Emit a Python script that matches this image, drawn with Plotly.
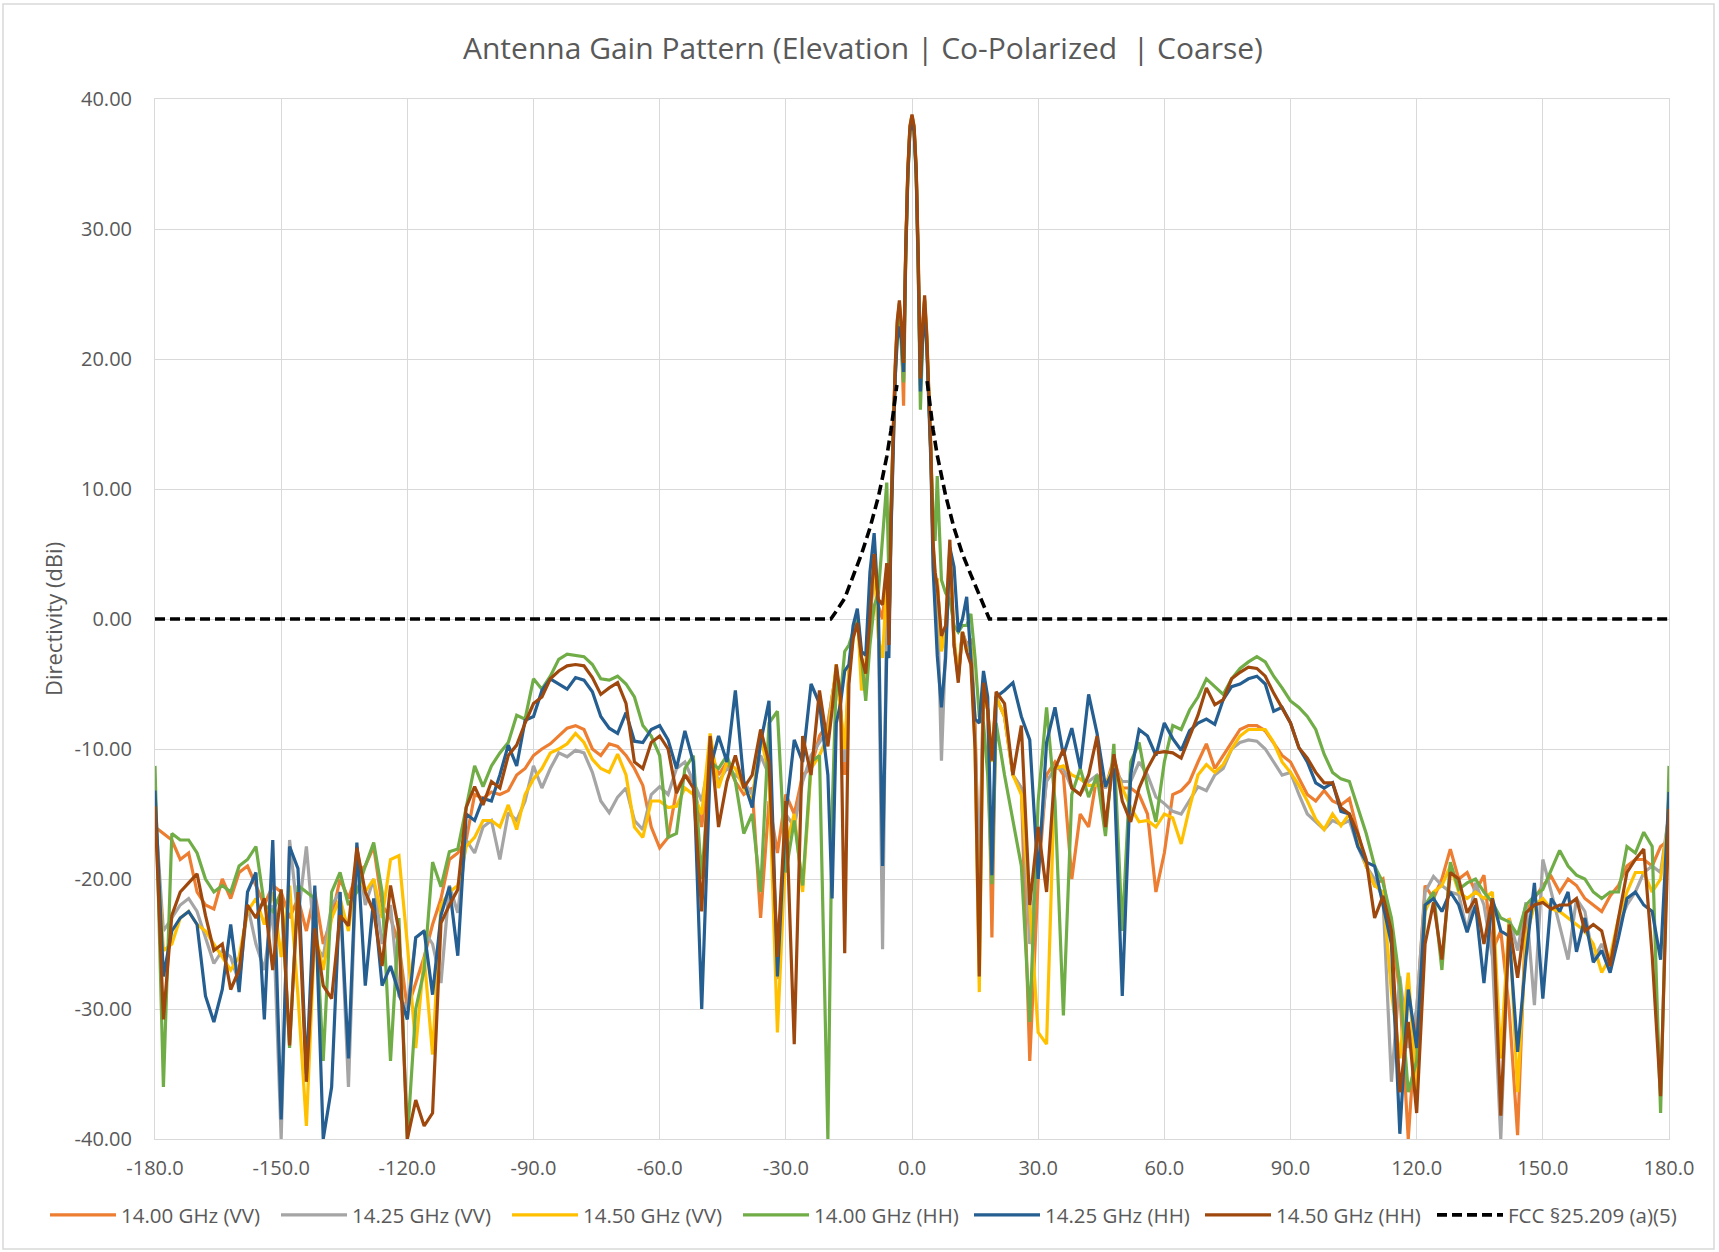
import plotly.graph_objects as go

# ---------------- angle grid (degrees) ----------------
angle_coarse_left = list(range(-180, -21, 2))        # -180 .. -22
angle_fine_left = list(range(-20, -5))               # -20 .. -6
angle_main = [v / 2 for v in range(-11, 12)]         # -5.5 .. 5.5
angle_fine_right = list(range(6, 21))                # 6 .. 20
angle_coarse_right = list(range(22, 181, 2))         # 22 .. 180
angles = angle_coarse_left + angle_fine_left + angle_main + angle_fine_right + angle_coarse_right

# ---------------- series (dBi) ----------------
vv_1400 = [  # 14.00 GHz (VV)
    -16.0, -16.5, -17.0, -18.5, -18.0, -21.0, -22.0, -22.3, -20.0, -21.5,
    -19.5, -19.0, -20.5, -22.0, -20.5, -21.0, -23.0, -21.5, -24.0, -21.0,
    -25.0, -23.0, -20.0, -21.5, -19.5, -19.0, -17.5, -22.0, -23.0, -25.0,
    -30.0, -28.0, -26.0, -23.5, -21.5, -18.5, -18.0, -17.0, -13.5, -13.8,
    -13.3, -13.5, -13.2, -12.0, -11.5, -10.5, -10.0, -9.6, -9.0, -8.4,
    -8.2, -8.5, -10.0, -10.5, -9.6, -9.8, -10.5, -11.5, -12.8, -16.0,
    -17.6, -16.8, -13.2, -12.0, -12.5, -16.0, -10.0, -12.0, -11.0, -12.5,
    -13.5, -13.0, -23.0, -14.0, -18.0, -13.5, -15.0, -12.0, -11.5, -9.0,
    -8.0, -6.0, -4.0, -7.0, -12.0, -4.0, -1.0, 0.5, -3.0, -5.5, 0.0, 4.0, 1.0, 0.0, 3.5,
    -1.0, 7.5, 14.5, 19.0, 22.8, 24.3, 21.5, 16.4, 28.0, 34.3, 37.8, 38.7, 37.8, 34.5, 27.5, 18.0, 22.0, 24.5, 21.5, 17.0, 12.5, 5.5, 3.0,
    3.0, -2.0, -1.0, 5.0, -2.0, -4.5, -1.0, -2.0, -1.5, -8.0, -22.0, -5.0, -7.0, -24.5, -6.0,
    -7.5, -12.0, -13.0, -34.0, -20.0, -12.0, -11.0, -12.0, -20.0, -15.0, -16.0, -12.0, -13.0, -10.7, -13.0, -13.0, -13.5, -15.0, -21.0, -18.0,
    -13.5, -13.2, -12.5, -11.0, -9.6, -11.5, -10.5, -9.5, -8.5, -8.2, -8.2, -8.6, -9.5, -10.5, -11.0, -12.2, -13.5, -14.0, -13.2, -14.0, -14.3, -13.8, -16.5, -19.0, -20.5,
    -20.0, -24.0, -28.7, -40.0, -30.0, -20.5, -21.5, -20.0, -17.7, -20.0, -19.5, -21.0, -19.7, -25.5, -24.0, -30.0, -39.7, -22.5, -21.5, -20.5, -19.8, -21.0, -20.0, -20.5, -21.5, -22.0, -22.5, -21.3, -20.5, -19.0, -18.5, -18.5, -19.0, -17.5, -17.0,
]
vv_1425 = [  # 14.25 GHz (VV)
    -14.5, -24.0, -23.0, -22.0, -21.5, -22.5, -24.5, -26.5, -25.5, -26.0,
    -28.0, -22.0, -25.0, -27.0, -22.0, -40.0, -17.0, -23.0, -17.5, -25.0,
    -26.0, -22.0, -21.0, -36.0, -17.5, -22.0, -20.0, -25.0, -22.0, -29.0,
    -30.0, -24.5, -24.0, -25.0, -28.0, -20.5, -22.6, -17.0, -18.0, -16.0,
    -15.5, -18.5, -14.9, -15.5, -14.0, -11.3, -13.0, -11.5, -10.3, -10.6,
    -10.1, -10.3, -11.8, -14.0, -14.9, -13.7, -13.0, -15.5, -16.2, -13.5,
    -12.9, -13.5, -11.5, -11.0, -12.5, -14.0, -10.5, -12.5, -11.5, -12.0,
    -12.5, -13.5, -10.5, -12.0, -27.7, -15.0, -16.0, -12.5, -10.5, -9.5,
    -8.5, -6.0, -4.0, -7.0, -11.0, -4.0, -1.0, 0.0, -3.0, -4.5, 0.0, 4.0, 0.0, -25.4, 2.0,
    -1.5, 7.0, 14.0, 18.8, 22.5, 24.0, 21.8, 18.5, 28.0, 34.2, 37.7, 38.6, 37.7, 34.4, 27.2, 17.5, 22.0, 24.5, 21.5, 17.2, 12.5, 5.5, 2.5,
    2.0, -10.9, -2.0, 5.0, -2.0, -4.0, -1.0, -2.0, -2.5, -9.0, -20.0, -5.0, -7.0, -11.0, -6.0,
    -7.5, -12.0, -13.0, -25.0, -18.0, -12.5, -11.5, -11.5, -13.0, -13.5, -12.5, -12.0, -13.0, -11.5, -12.5, -12.5, -11.0, -12.0, -13.7, -14.2,
    -14.8, -15.0, -14.0, -12.9, -13.2, -12.0, -11.5, -10.0, -9.5, -9.3, -9.4, -10.0, -11.0, -12.0, -11.8, -13.5, -15.0, -15.6, -16.2, -15.5, -15.8, -15.5, -17.5, -19.0, -20.0,
    -21.5, -35.6, -27.5, -33.0, -30.0, -21.0, -19.8, -20.5, -21.0, -21.2, -24.0, -20.3, -22.0, -26.0, -40.0, -23.0, -25.5, -21.8, -29.7, -18.5, -21.0, -23.5, -26.2, -21.5, -22.5, -26.2, -25.0, -26.5, -23.5, -22.0, -21.0, -19.5, -19.0, -19.5, -15.0,
]
vv_1450 = [  # 14.50 GHz (VV)
    -15.0, -25.5, -25.0, -23.0, -22.5, -23.5, -24.0, -25.0, -26.0, -27.0,
    -26.0, -22.5, -21.5, -23.5, -21.0, -26.0, -20.5, -29.0, -39.0, -24.0,
    -27.0, -23.0, -21.5, -24.0, -19.0, -21.0, -20.0, -23.0, -18.5, -18.2,
    -25.0, -33.0, -26.0, -33.5, -22.0, -21.0, -20.5, -17.5, -16.8, -15.5,
    -15.5, -16.0, -14.3, -16.2, -13.5, -12.3, -11.5, -10.3, -10.0, -9.6,
    -8.8, -9.5, -10.8, -11.5, -11.8, -10.4, -12.0, -16.0, -16.8, -14.0,
    -14.0, -14.5, -14.4, -13.0, -13.5, -15.0, -8.8, -13.0, -11.0, -11.5,
    -13.0, -14.0, -9.0, -12.0, -31.8, -17.5, -15.0, -21.0, -11.5, -10.5,
    -9.0, -6.0, -3.5, -7.0, -10.0, -4.0, -1.5, 0.5, -5.5, -3.5, 0.5, 4.5, -1.5, -3.0, 3.0,
    -1.5, 7.0, 14.2, 19.0, 22.6, 24.2, 22.0, 19.0, 28.2, 34.4, 37.8, 38.7, 37.8, 34.5, 27.4, 18.0, 22.2, 24.6, 21.8, 17.4, 12.8, 5.8, 3.0,
    3.0, -2.5, -1.0, 5.5, -1.5, -4.5, -1.0, -2.5, -2.0, -10.0, -28.7, -5.0, -7.0, -11.0, -6.0,
    -7.5, -12.0, -13.5, -22.0, -31.8, -32.7, -11.5, -11.3, -12.0, -12.3, -12.8, -12.8, -12.8, -11.2, -13.0, -14.5, -15.6, -15.5, -16.0, -15.0,
    -15.3, -17.3, -14.5, -12.0, -11.2, -11.8, -11.2, -10.0, -9.0, -8.5, -8.5, -8.5, -9.5, -11.0, -11.8, -12.8, -14.0, -15.4, -16.2, -15.0, -15.9, -15.0, -17.0, -19.0, -20.5,
    -21.0, -28.7, -33.8, -27.2, -36.4, -22.5, -21.0, -20.5, -19.0, -21.0, -21.5, -21.0, -21.5, -21.0, -33.8, -23.0, -36.4, -24.5, -22.0, -21.5, -22.3, -22.5, -23.0, -23.5, -24.0, -25.0, -27.2, -26.0, -23.0, -21.0, -19.5, -19.5, -21.0, -20.0, -15.0,
]
hh_1400 = [  # 14.00 GHz (HH)
    -11.3, -36.0, -16.5, -17.0, -17.0, -18.0, -20.0, -21.0, -20.5, -21.0,
    -19.0, -18.5, -17.5, -22.0, -22.5, -21.0, -33.0, -20.5, -21.0, -21.5,
    -34.0, -21.0, -19.5, -22.0, -21.0, -19.0, -17.2, -21.0, -34.0, -23.0,
    -40.0, -30.0, -27.0, -18.7, -20.6, -17.9, -17.7, -14.5, -11.3, -12.9,
    -11.3, -10.3, -9.5, -7.4, -7.7, -4.6, -5.4, -4.4, -3.1, -2.7,
    -2.8, -2.9, -3.5, -4.6, -4.7, -4.4, -5.0, -6.0, -8.2, -9.0,
    -10.5, -16.8, -16.5, -11.5, -10.5, -20.0, -11.0, -11.5, -10.5, -12.5,
    -16.5, -15.0, -21.0, -8.0, -7.1, -19.5, -15.5, -20.5, -11.0, -10.5,
    -40.0, -15.0, -4.5, -6.0, -2.5, -2.0, -1.0, 0.0, -3.0, -6.3, -2.0, 1.0, 2.0, 6.0, 10.5,
    3.0, 9.0, 14.0, 18.5, 22.0, 23.5, 21.0, 18.2, 27.5, 33.8, 37.5, 38.5, 37.5, 34.0, 26.5, 16.1, 21.0, 24.0, 21.5, 17.5, 13.5, 8.0, 6.0,
    11.0, 3.0, 2.0, 1.5, -0.5, -1.0, -0.5, -0.5, 0.4, -3.0, -7.5, -8.0, -12.0, -20.4, -8.0,
    -12.0, -15.5, -19.0, -31.0, -14.0, -6.8, -14.0, -30.5, -13.5, -11.5, -13.7, -12.0, -16.7, -9.6, -24.0, -11.0, -9.5, -13.0, -15.6, -11.0,
    -8.2, -8.5, -7.0, -6.0, -4.6, -5.2, -5.8, -4.6, -3.8, -3.3, -2.9, -3.3, -4.4, -5.3, -6.3, -6.8, -7.5, -8.5, -10.4, -11.8, -12.3, -12.5, -14.5, -16.5, -19.0,
    -20.3, -23.0, -28.0, -36.4, -34.0, -22.0, -21.0, -27.0, -18.7, -20.8, -20.3, -20.0, -21.0, -21.8, -23.0, -23.3, -24.3, -22.0, -21.3, -20.8, -19.3, -17.8, -19.0, -19.7, -20.0, -21.0, -21.5, -21.0, -21.0, -17.5, -18.0, -16.4, -17.5, -38.0, -11.3,
]
hh_1425 = [  # 14.25 GHz (HH)
    -13.2, -27.5, -24.0, -23.0, -22.5, -23.5, -29.0, -31.0, -28.5, -23.5,
    -28.7, -21.0, -19.5, -30.8, -17.0, -38.5, -17.5, -19.2, -35.0, -20.5,
    -40.0, -36.0, -21.0, -33.8, -17.2, -28.2, -21.5, -28.2, -26.7, -28.7,
    -30.8, -24.5, -24.0, -28.9, -22.8, -20.6, -25.9, -15.0, -15.5, -13.8,
    -14.0, -12.0, -9.7, -11.3, -7.8, -7.5, -5.5, -4.6, -5.0, -5.4,
    -4.5, -4.7, -5.6, -7.5, -8.4, -8.8, -7.2, -9.4, -9.5, -8.5,
    -8.2, -9.3, -11.5, -8.6, -11.0, -30.0, -11.5, -9.0, -11.0, -5.5,
    -12.5, -14.5, -9.5, -6.3, -27.5, -15.0, -9.3, -11.0, -5.0, -6.5,
    -12.0, -21.5, -8.0, -6.5, -4.0, -3.5, -0.5, 0.8, -2.5, -2.8, 3.6, 6.6, 1.0, -19.0, -2.5,
    -3.0, 6.5, 13.5, 18.5, 21.5, 22.5, 21.5, 19.0, 28.0, 34.0, 37.5, 38.3, 37.5, 34.2, 27.0, 17.5, 21.5, 23.5, 21.0, 17.0, 12.0, 4.0, 0.0,
    -2.8, -6.8, -3.0, 5.5, 4.0, -1.0, 0.0, 1.7, -3.0, -7.7, -8.0, -4.0, -6.0, -19.7, -6.0,
    -5.5, -4.9, -7.5, -9.3, -20.0, -9.5, -6.8, -10.5, -8.4, -11.5, -5.8, -8.8, -12.9, -11.5, -29.0, -12.0, -8.5, -9.0, -10.5, -8.0,
    -9.2, -10.1, -8.6, -8.0, -7.7, -8.1, -6.2, -5.2, -5.0, -4.6, -4.4, -5.0, -7.1, -6.8, -8.0, -9.9, -11.0, -12.6, -13.0, -12.6, -14.8, -15.0, -17.5, -18.7, -19.0,
    -22.0, -25.0, -39.6, -28.5, -33.0, -22.0, -21.5, -22.5, -21.0, -22.0, -24.1, -22.0, -28.0, -21.5, -24.0, -24.4, -33.3, -26.0, -20.3, -29.2, -21.5, -22.5, -21.0, -25.6, -23.0, -26.4, -25.5, -27.2, -24.5, -21.5, -21.0, -22.0, -22.5, -26.2, -13.3,
]
hh_1450 = [  # 14.50 GHz (HH)
    -14.4, -30.8, -22.8, -21.0, -20.3, -19.6, -22.8, -25.5, -25.0, -28.5,
    -27.0, -22.0, -23.0, -21.5, -27.0, -20.8, -32.8, -21.0, -35.6, -23.8,
    -28.2, -29.2, -22.8, -23.6, -17.6, -21.0, -22.5, -26.7, -20.5, -24.0,
    -40.0, -37.0, -39.0, -38.0, -23.4, -22.0, -20.8, -14.5, -12.9, -14.3,
    -12.5, -13.0, -10.5, -9.7, -8.0, -6.5, -6.0, -4.6, -4.0, -3.6,
    -3.5, -3.6, -4.5, -5.8, -5.3, -4.9, -6.5, -11.0, -11.5, -9.5,
    -9.0, -10.0, -13.4, -12.0, -13.0, -22.5, -9.0, -16.0, -12.5, -10.5,
    -13.0, -12.0, -8.5, -11.0, -26.0, -14.0, -32.7, -9.0, -12.0, -5.5,
    -9.8, -7.0, -3.5, -6.0, -25.7, -5.0, -1.5, -0.3, -3.0, -4.2, 0.0, 5.0, 1.5, 1.1, 4.3,
    -2.0, 8.0, 14.8, 19.5, 23.0, 24.5, 22.5, 19.7, 28.5, 34.5, 37.9, 38.8, 37.9, 34.7, 27.8, 18.5, 22.5, 24.9, 22.0, 17.6, 13.0, 6.0, 3.6,
    2.5, -1.3, -0.5, 6.1, -2.0, -4.9, -1.0, -2.5, -3.5, -10.0, -27.5, -4.9, -7.0, -10.9, -5.6,
    -6.5, -12.0, -8.2, -22.0, -16.0, -21.0, -11.5, -10.0, -13.0, -13.5, -12.0, -9.0, -16.0, -10.4, -14.0, -15.6, -13.0, -11.5, -10.3, -10.2,
    -10.3, -10.7, -9.0, -7.4, -5.3, -6.6, -6.2, -4.6, -4.1, -3.7, -3.8, -4.4, -5.7, -6.8, -8.0, -9.9, -10.7, -11.8, -12.6, -12.6, -14.5, -15.0, -16.5, -18.5, -23.0,
    -21.3, -24.0, -36.4, -31.0, -38.0, -25.0, -21.8, -26.2, -19.5, -20.0, -22.6, -21.5, -25.0, -21.5, -38.2, -23.5, -27.6, -22.6, -22.0, -21.8, -22.3, -22.0, -22.0, -21.5, -24.0, -23.5, -24.0, -26.7, -23.0, -19.5, -18.5, -17.7, -25.9, -36.7, -14.6,
]

# FCC mask, None = gap at the main beam
fcc_angles = [-180, -19.3, -18, -16, -14, -12, -10, -8, -7, -6, -5, -4.3, -3.6, None,
              3.6, 4.3, 5, 6, 7, 8, 10, 12, 14, 16, 18.4, 180]
fcc_values = [0, 0, 0.6, 1.6, 3.3, 5.0, 7.0, 9.4, 10.9, 12.5, 14.5, 16.2, 18.0, None,
              18.3, 16.3, 14.6, 12.6, 10.9, 9.5, 7.0, 5.0, 3.4, 1.9, 0, 0]

series_names = ["14.00 GHz (VV)", "14.25 GHz (VV)", "14.50 GHz (VV)",
                "14.00 GHz (HH)", "14.25 GHz (HH)", "14.50 GHz (HH)"]
series_values = [vv_1400, vv_1425, vv_1450, hh_1400, hh_1425, hh_1450]
series_colors = ["#ED7D31", "#A5A5A5", "#FFC000", "#70AD47", "#255E91", "#9E480E"]
fcc_name = "FCC §25.209 (a)(5)"

x_tick_vals = [-180, -150, -120, -90, -60, -30, 0, 30, 60, 90, 120, 150, 180]
x_tick_text = ["-180.0", "-150.0", "-120.0", "-90.0", "-60.0", "-30.0", "0.0",
               "30.0", "60.0", "90.0", "120.0", "150.0", "180.0"]
y_tick_vals = [-40, -30, -20, -10, 0, 10, 20, 30, 40]
y_tick_text = ["-40.00", "-30.00", "-20.00", "-10.00", "0.00", "10.00", "20.00", "30.00", "40.00"]

for vals in series_values:
    assert len(vals) == len(angles), (len(vals), len(angles))

fig = go.Figure()
for name, vals, col in zip(series_names, series_values, series_colors):
    fig.add_trace(go.Scatter(x=angles, y=vals, name=name, mode="lines",
                             line=dict(color=col, width=3.2), legend="legend"))
fig.add_trace(go.Scatter(x=fcc_angles, y=fcc_values, name=fcc_name, mode="lines",
                         connectgaps=False, legend="legend2",
                         line=dict(color="#000000", width=3.6, dash="10px,5px")))

W, H = 1719, 1252
L, R, T, B = 155, 50, 99, 113
pw, ph = W - L - R, H - T - B

axis_common = dict(showgrid=True, gridcolor="#D9D9D9", gridwidth=1, zeroline=False,
                   showline=True, linecolor="#D9D9D9", linewidth=1, mirror=True,
                   ticks="", tickfont=dict(size=20, color="#595959"))

legend_common = dict(orientation="h", xanchor="left", y=(H - B - 1215) / ph, yanchor="middle",
                     font=dict(size=20.5, color="#595959"), itemwidth=66,
                     traceorder="normal", bgcolor="rgba(0,0,0,0)")

fig.update_layout(
    width=W, height=H,
    margin=dict(l=L, r=R, t=T, b=B),
    paper_bgcolor="white", plot_bgcolor="white",
    font=dict(family="Open Sans", color="#595959"),
    title=dict(text="Antenna Gain Pattern (Elevation | Co-Polarized  | Coarse)",
               x=0.502, xanchor="center", y=1 - 48 / H, yanchor="middle",
               font=dict(size=30, color="#595959")),
    xaxis=dict(range=[-180, 180], tickmode="array", tickvals=x_tick_vals, ticktext=x_tick_text,
               ticklabelstandoff=11, **axis_common),
    yaxis=dict(range=[-40, 40], tickmode="array", tickvals=y_tick_vals, ticktext=y_tick_text,
               ticklabelstandoff=18, **axis_common),
    legend=dict(x=(45 - L) / pw, entrywidth=150, **legend_common),
    legend2=dict(x=(1432 - L) / pw, **legend_common),
    showlegend=True,
)

fig.add_annotation(text="Directivity (dBi)", textangle=-90, showarrow=False,
                   xref="paper", yref="paper", x=(53 - L) / pw, y=0.5,
                   xanchor="center", yanchor="middle",
                   font=dict(size=22, color="#595959"))

fig.add_shape(type="rect", xref="paper", yref="paper",
              x0=(3 - L) / pw, x1=(1714 - L) / pw,
              y0=(H - B - 1249) / ph, y1=(H - B - 4) / ph,
              line=dict(color="#D9D9D9", width=1.5), layer="below")

fig.write_html("out.html", config={"displayModeBar": False},
               post_script="document.body.style.margin='0px';")
